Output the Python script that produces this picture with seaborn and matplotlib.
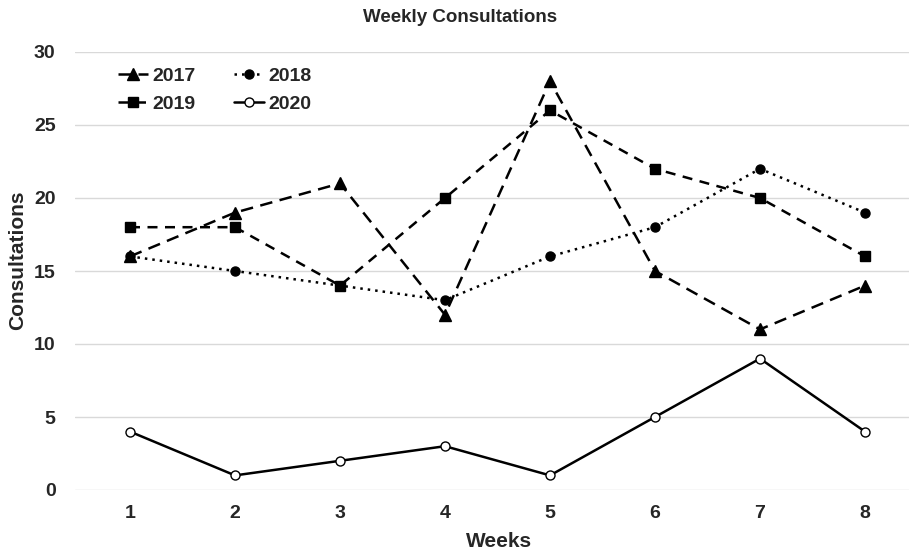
import matplotlib
matplotlib.use("Agg")
import matplotlib.pyplot as plt
import seaborn as sns
import pandas as pd

weeks = [1, 2, 3, 4, 5, 6, 7, 8]
y2017 = [16, 19, 21, 12, 28, 15, 11, 14]
y2018 = [16, 15, 14, 13, 16, 18, 22, 19]
y2019 = [18, 18, 14, 20, 26, 22, 20, 16]
y2020 = [4, 1, 2, 3, 1, 5, 9, 4]
years = ["2017", "2018", "2019", "2020"]
series = [y2017, y2018, y2019, y2020]

rows = []
for yr, vals in zip(years, series):
    for w, v in zip(weeks, vals):
        rows.append({"Weeks": w, "Consultations": v, "Year": yr})
df = pd.DataFrame(rows)

sns.set_style("white")
plt.rcParams['font.family'] = ['Liberation Sans', 'DejaVu Sans']

fig = plt.figure(figsize=(9.09, 5.55), dpi=100)
ax = fig.add_axes([75/909, 65/555, (909-75)/909, (490-52)/555])

styles = {
    "2017": dict(marker="^", linestyle=(0, (5, 3)), mfc="black", ms=8),
    "2018": dict(marker="o", linestyle=(0, (1, 2)), mfc="black", ms=6.5),
    "2019": dict(marker="s", linestyle=(0, (4, 3)), mfc="black", ms=7.5),
    "2020": dict(marker="o", linestyle="-", mfc="white", ms=6.5),
}
for yr in years:
    st = styles[yr]
    sns.lineplot(data=df[df["Year"] == yr], x="Weeks", y="Consultations", ax=ax,
                 color="black", linewidth=1.8, marker=st["marker"],
                 linestyle=st["linestyle"], markerfacecolor=st["mfc"],
                 markeredgecolor="black", markersize=st["ms"], markeredgewidth=1,
                 label=yr)
h, l = ax.get_legend_handles_labels()
hd = dict(zip(l, h))

ax.set_xlim(1 - 55/105, 1 + (909-130)/105)
ax.set_ylim(0, 30)
ax.set_yticks([0, 5, 10, 15, 20, 25, 30])
ax.set_xticks(weeks)
ax.yaxis.grid(True, color="#d9d9d9", linewidth=1)
ax.set_axisbelow(True)
for s in ax.spines.values():
    s.set_visible(False)
ax.tick_params(axis="y", length=0, labelsize=14, pad=14)
ax.tick_params(axis="x", length=0, labelsize=14, pad=11)
for lab in ax.get_xticklabels() + ax.get_yticklabels():
    lab.set_fontweight("bold")
ax.set_xlabel("Weeks", fontsize=15, fontweight="bold")
ax.set_ylabel("Consultations", fontsize=15, fontweight="bold")
ax.xaxis.set_label_coords((499 - 75) / 834, (490 - 532) / 438)
ax.yaxis.set_label_coords((27 - 75) / 834, (490 - 260) / 438)
fig.text(460/909, 1 - 18/555, "Weekly Consultations",
         ha="center", va="center", fontsize=13.5, fontweight="bold")

order = ["2017", "2019", "2018", "2020"]
leg = ax.legend([hd[k] for k in order], order, loc="upper left", ncol=2,
                frameon=False, prop={"weight": "bold", "size": 14},
                handlelength=1.55, columnspacing=2.0, handletextpad=0.2,
                labelspacing=0.55, borderpad=0, borderaxespad=0,
                bbox_to_anchor=(118/909, 1 - 67/555),
                bbox_transform=fig.transFigure)

fig.savefig("out.png", dpi=100)
